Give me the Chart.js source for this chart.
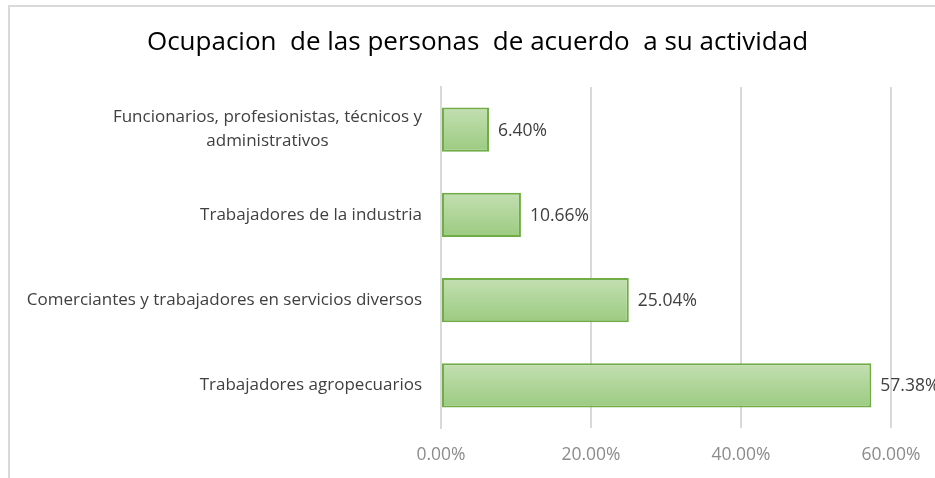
<!DOCTYPE html>
<html>
<head>
<meta charset="utf-8">
<script src="https://cdn.jsdelivr.net/npm/chart.js@4"></script>
<style>
html,body{margin:0;padding:0;background:#fff;overflow:hidden;width:935px;height:478px;}
#frame{position:absolute;left:8px;top:5px;width:1000px;height:1000px;border-left:2px solid #d9d9d9;border-top:2px solid #d9d9d9;}
#box{position:absolute;left:10px;top:0;width:935px;height:478px;}
</style>
</head>
<body>
<div id="frame"></div>
<div id="box"><canvas id="c" width="935" height="478"></canvas></div>
<script>
const title="Ocupacion  de las personas  de acuerdo  a su actividad";
const categories=[
["Funcionarios, profesionistas, técnicos y","administrativos"],
"Trabajadores de la industria",
"Comerciantes y trabajadores en servicios diversos",
"Trabajadores agropecuarios"
];
const values=[0.064,0.1066,0.2504,0.5738];
const ticks=[0,0.2,0.4,0.6];

const FONT="'Open Sans', Lato, sans-serif";
const BAR_PCT=0.52;

/* title centred on the whole canvas */
const titlePlug={
id:"titlePlug",
afterDraw(chart){
const ctx=chart.ctx;
ctx.save();
ctx.font="26px "+FONT;
ctx.fillStyle="#000";
ctx.textAlign="center";
ctx.textBaseline="middle";
ctx.fillText(title,chart.width/2,43);
ctx.restore();
}
};

/* labels left of the bars, right aligned, multi line centred */
const catLabels={
id:"catLabels",
afterDraw(chart){
const ctx=chart.ctx;
const y=chart.scales.y;
ctx.save();
ctx.font="17px "+FONT;
ctx.fillStyle="#404040";
ctx.textBaseline="middle";
const right=y.right-19;
categories.forEach((lab,i)=>{
const py=y.getPixelForValue(i);
if(Array.isArray(lab)){
let w=Math.max(...lab.map(t=>ctx.measureText(t).width));
let cx=right-w/2;
ctx.textAlign="center";
lab.forEach((t,j)=>{
ctx.fillText(t,cx,py+(j-(lab.length-1)/2)*24);
});
}else{
ctx.textAlign="right";
ctx.fillText(lab,right,py);
}
});
ctx.restore();
}
};

/* value labels at the bar ends */
const valLabels={
id:"valLabels",
afterDatasetsDraw(chart){
const ctx=chart.ctx;
const meta=chart.getDatasetMeta(0);
ctx.save();
ctx.font="17.5px "+FONT;
ctx.fillStyle="#404040";
ctx.textAlign="left";
ctx.textBaseline="middle";
meta.data.forEach((bar,i)=>{
ctx.fillText((values[i]*100).toFixed(2)+"%",bar.x+9,bar.y+1);
});
ctx.restore();
}
};

const ctx=document.getElementById("c").getContext("2d");

/* vertical gradient per bar, from the y scale */
function barFill(context){
const chart=context.chart;
const y=chart.scales.y;
if(!y||!chart.chartArea) return "#a9d18e";
const cy=y.getPixelForValue(context.dataIndex);
const h=(chart.chartArea.bottom-chart.chartArea.top)/categories.length*BAR_PCT;
const g=chart.ctx.createLinearGradient(0,cy-h/2,0,cy+h/2);
g.addColorStop(0,"#c3dfb2");
g.addColorStop(1,"#9bcb80");
return g;
}

new Chart(ctx,{
type:"bar",
data:{
labels:categories,
datasets:[{
data:values,
backgroundColor:barFill,
borderColor:"#70ad47",
borderWidth:2,
borderSkipped:false,
categoryPercentage:1,
barPercentage:BAR_PCT
}]
},
options:{
indexAxis:"y",
responsive:false,
animation:false,
layout:{padding:{left:0,right:54,top:87,bottom:0}},
plugins:{
legend:{display:false},
tooltip:{enabled:false},
title:{display:false}
},
scales:{
x:{
min:0,max:0.6,
afterBuildTicks(s){s.ticks=ticks.map(v=>({value:v}));},
ticks:{
color:"#8c8c8c",
font:{family:FONT,size:17.5},
padding:17,
callback:v=>(v*100).toFixed(2)+"%"
},
grid:{color:"#d9d9d9",lineWidth:2,drawTicks:false},
border:{display:false},
afterFit(s){s.height=50;}
},
y:{
ticks:{display:false},
grid:{display:false},
border:{display:true,color:"#d9d9d9",width:2},
afterFit(s){s.width=431;}
}
}
},
plugins:[titlePlug,catLabels,valLabels]
});
</script>
</body>
</html>
